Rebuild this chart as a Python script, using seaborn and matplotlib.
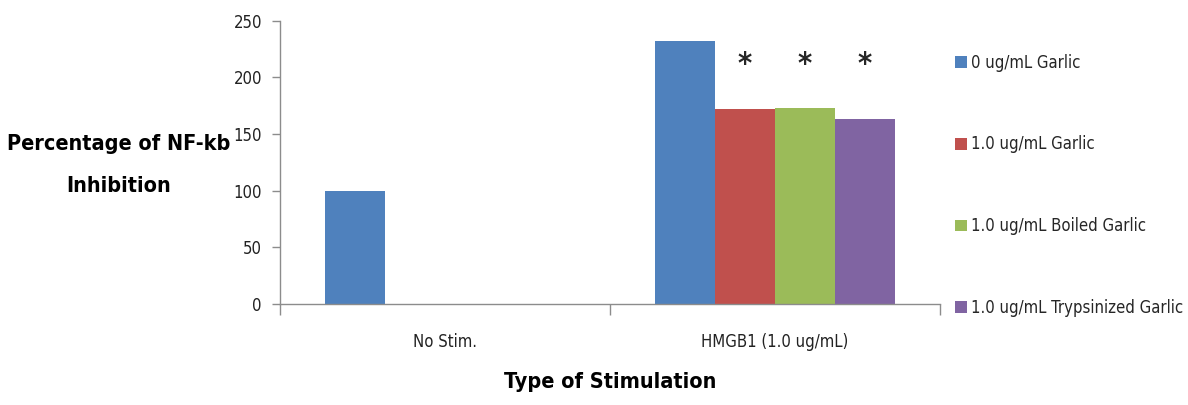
import numpy as np
import pandas as pd
import matplotlib
matplotlib.use("Agg")
import matplotlib.pyplot as plt
from matplotlib import font_manager
import seaborn as sns

# Data
stimulations = ["No Stim.", "HMGB1 (1.0 ug/mL)"]
treatments = ["0 ug/mL Garlic", "1.0 ug/mL Garlic",
              "1.0 ug/mL Boiled Garlic", "1.0 ug/mL Trypsinized Garlic"]
no_stim_values = [100, np.nan, np.nan, np.nan]
hmgb1_values = [232, 172, 173, 163]
significance = ["", "*", "*", "*"]
y_ticks = [0, 50, 100, 150, 200, 250]
colors = ["#4F81BD", "#C0504D", "#9BBB59", "#8064A2"]

rows = []
for stim, vals in zip(stimulations, [no_stim_values, hmgb1_values]):
    for treat, v in zip(treatments, vals):
        rows.append({"Stimulation": stim, "Treatment": treat, "Value": v})
df = pd.DataFrame(rows)

sns.set_theme(style="white")

# prefer a narrow face when one is installed
installed = font_manager.fontManager.ttflist
narrow = [f for f in installed if f.name == "Liberation Sans Narrow"]
dv_cond = [f for f in installed if f.name == "DejaVu Sans"
           and str(f.stretch) in ("condensed", "semi-condensed", "75", "87")]
if narrow:
    plt.rcParams["font.family"] = ["Liberation Sans Narrow", "DejaVu Sans"]
    scale = 1.08
elif dv_cond:
    plt.rcParams["font.family"] = ["DejaVu Sans"]
    plt.rcParams["font.stretch"] = "condensed"
    scale = 1.0
else:
    plt.rcParams["font.family"] = ["Lato", "DejaVu Sans"]
    scale = 0.95

tick_fs = 12 * scale
label_fs = 15.5 * scale
legend_fs = 12 * scale
gray = "#8c8c8c"

fig = plt.figure(figsize=(11.88, 4.05), dpi=100)
ax = fig.add_axes([0.2357, 0.2494, 0.791 - 0.2357, 0.949 - 0.2494])

sns.barplot(data=df, x="Stimulation", y="Value", hue="Treatment",
            order=stimulations, hue_order=treatments, palette=colors,
            width=0.727, saturation=1, errorbar=None, ax=ax,
            edgecolor="none", linewidth=0)

ax.set_xlim(-0.5, 1.5)
ax.set_ylim(0, 250)
ax.set_yticks(y_ticks)
ax.set_yticklabels([str(t) for t in y_ticks], fontsize=tick_fs, color="#222222")

# category boundary ticks, labels centred between them
ax.set_xticks([-0.5, 0.5, 1.5])
ax.set_xticklabels(["", "", ""])
ax.set_xticks([0, 1], minor=True)
ax.set_xticklabels(stimulations, minor=True, fontsize=tick_fs, color="#222222")
ax.tick_params(axis="x", which="major", bottom=True, direction="out",
               length=8, color=gray, width=1)
ax.tick_params(axis="x", which="minor", bottom=True, length=0, pad=21)
ax.tick_params(axis="y", left=True, direction="out", length=6, color=gray,
               width=1, pad=7)

for side in ["top", "right"]:
    ax.spines[side].set_visible(False)
for side in ["left", "bottom"]:
    ax.spines[side].set_color(gray)
    ax.spines[side].set_linewidth(1)

ax.set_xlabel("Type of Stimulation", fontsize=label_fs, fontweight="bold",
              labelpad=15, color="black")
ax.set_ylabel("Percentage of NF-kb\nInhibition", fontsize=label_fs,
              fontweight="bold", rotation=0, color="black",
              linespacing=2.4, ha="center", va="center")
ax.yaxis.set_label_coords(-0.244, 0.49)

# significance markers above the HMGB1 bars
sig_height = 211
for container, mark in zip(ax.containers, significance):
    if not mark:
        continue
    for bar in container:
        cx = bar.get_x() + bar.get_width() / 2
        if cx > 0.5 and np.isfinite(bar.get_height()):
            ax.text(cx, sig_height, mark, ha="center", va="center",
                    fontsize=22, fontweight="bold", family="DejaVu Sans")

handles, labels = ax.get_legend_handles_labels()
ax.legend(handles, labels, loc="upper left", bbox_to_anchor=(0.798, 0.884),
          bbox_transform=fig.transFigure, frameon=False, fontsize=legend_fs,
          handlelength=0.72, handleheight=0.72, handletextpad=0.25,
          labelspacing=3.83, borderaxespad=0)

fig.savefig("out.png", dpi=100)
